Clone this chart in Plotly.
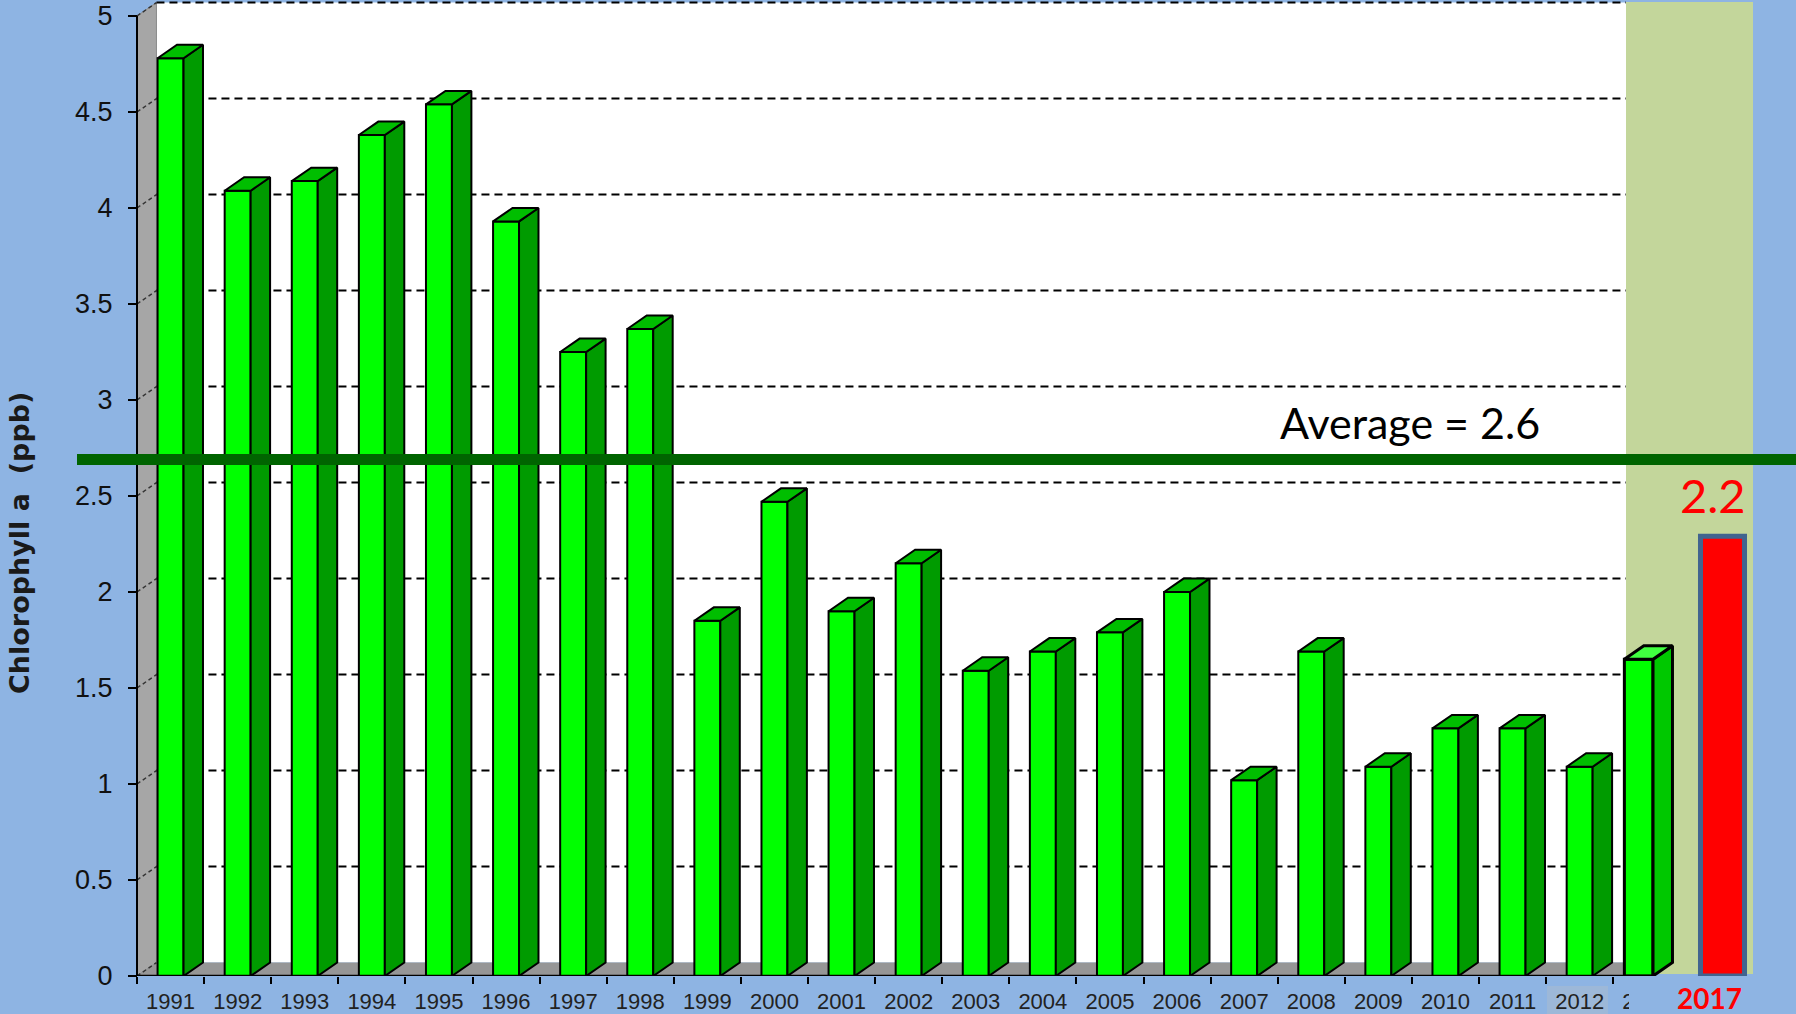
import plotly.graph_objects as go
import numpy as np

# ---------------- data ----------------
years = ["1991", "1992", "1993", "1994", "1995", "1996", "1997", "1998", "1999", "2000",
         "2001", "2002", "2003", "2004", "2005", "2006", "2007", "2008", "2009", "2010",
         "2011", "2012", "2013"]
chl = [4.78, 4.09, 4.14, 4.38, 4.54, 3.93, 3.25, 3.37, 1.85, 2.47,
       1.90, 2.15, 1.59, 1.69, 1.79, 2.00, 1.02, 1.69, 1.09, 1.29,
       1.29, 1.09, 1.65]
year_2017 = "2017"
chl_2017 = 2.29
label_2017 = "2.2"
average_value = 2.69
average_label = "Average = 2.6"
y_tick_vals = [0, 0.5, 1, 1.5, 2, 2.5, 3, 3.5, 4, 4.5, 5]
y_tick_text = ["0", "0.5", "1", "1.5", "2", "2.5", "3", "3.5", "4", "4.5", "5"]
y_title = "Chlorophyll a  (ppb)"

# ---------------- geometry / style ----------------
W, H = 1796, 1014
PX_CAT = 67.1        # pixels per category
PX_UNIT = 192.0      # pixels per ppb
AX_PX = 137.0        # y axis pixel position
Y0_PX = 976.0        # baseline pixel
B_MARGIN = H - Y0_PX


def px_x(px):
    return -0.5 + (px - AX_PX) / PX_CAT


def px_y(py):
    return (Y0_PX - py) / PX_UNIT


x_range = [px_x(0), px_x(W)]
y_range = [0, px_y(0)]

DX, DY = 0.29, 0.07      # 3-D depth offset (data units)
BW = 0.387               # bar front width
n = len(years)
xpos = np.arange(n, dtype=float)
xpos[-1] -= 0.12         # pasted last bar sits slightly left

BLUE = "#8EB4E3"
KHAKI = "#C3D69B"
FRONT = "#00FF00"
SIDE = "#009B00"
TOP = "#00BE00"

fig = go.Figure()

# front faces
fig.add_trace(go.Bar(x=xpos[:-1], y=chl[:-1], width=BW, marker=dict(color=FRONT, line=dict(color="black", width=2)),
                     hoverinfo="skip", showlegend=False))
fig.add_trace(go.Bar(x=xpos[-1:], y=chl[-1:], width=BW + 0.04, marker=dict(color=FRONT, line=dict(color="black", width=3)),
                     hoverinfo="skip", showlegend=False))


def faces(xs, vs, w):
    sx, sy, tx, ty = [], [], [], []
    for x, v in zip(xs, vs):
        r = x + w / 2
        l = x - w / 2
        sx += [r, r, r + DX, r + DX, r, None]
        sy += [0, v, v + DY, DY, 0, None]
        tx += [l, r, r + DX, l + DX, l, None]
        ty += [v, v, v + DY, v + DY, v, None]
    return sx, sy, tx, ty


sx, sy, tx, ty = faces(xpos[:-1], chl[:-1], BW)
fig.add_trace(go.Scatter(x=sx, y=sy, mode="lines", fill="toself", fillcolor=SIDE,
                         line=dict(color="black", width=2), hoverinfo="skip", showlegend=False))
fig.add_trace(go.Scatter(x=tx, y=ty, mode="lines", fill="toself", fillcolor=TOP,
                         line=dict(color="black", width=2), hoverinfo="skip", showlegend=False))
sx, sy, tx, ty = faces(xpos[-1:], chl[-1:], BW + 0.04)
fig.add_trace(go.Scatter(x=sx, y=sy, mode="lines", fill="toself", fillcolor="#00C800",
                         line=dict(color="black", width=3), hoverinfo="skip", showlegend=False))
fig.add_trace(go.Scatter(x=tx, y=ty, mode="lines", fill="toself", fillcolor="#40FF40",
                         line=dict(color="black", width=3), hoverinfo="skip", showlegend=False))

# 2017 bar
x2017 = px_x(1722.5)
fig.add_trace(go.Bar(x=[x2017], y=[chl_2017], width=0.656,
                     marker=dict(color="#FF0000", line=dict(color="#41648F", width=5)),
                     hoverinfo="skip", showlegend=False))

# ---------------- background shapes ----------------
shapes = []
wall_right = px_x(1626)
# white back wall
shapes.append(dict(type="rect", xref="x", yref="y", x0=-0.5 + DX, x1=wall_right, y0=DY, y1=5 + DY,
                   fillcolor="white", line=dict(width=0), layer="below"))
# khaki panel
shapes.append(dict(type="rect", xref="x", yref="y", x0=px_x(1626), x1=px_x(1753), y0=px_y(974), y1=px_y(2),
                   fillcolor=KHAKI, line=dict(width=0), layer="below"))
# left gray wall
shapes.append(dict(type="path", xref="x", yref="y",
                   path=f"M {-0.5},0 L {-0.5},5 L {-0.5 + DX},{5 + DY} L {-0.5 + DX},{DY} Z",
                   fillcolor="#A6A6A6", line=dict(color="#8C8C8C", width=1), layer="below"))
# floor
x_floor_end = xpos[-1] + BW / 2
shapes.append(dict(type="path", xref="x", yref="y",
                   path=f"M {-0.5},0 L {x_floor_end},0 L {x_floor_end + DX},{DY} L {-0.5 + DX},{DY} Z",
                   fillcolor="#969696", line=dict(width=0), layer="below"))
# gridlines
for v in y_tick_vals:
    if v > 0:
        shapes.append(dict(type="line", xref="x", yref="y", x0=-0.5 + DX, x1=wall_right, y0=v + DY, y1=v + DY,
                           line=dict(color="black", width=2, dash="8px,5px"), layer="below"))
    shapes.append(dict(type="line", xref="x", yref="y", x0=-0.5, x1=-0.5 + DX, y0=v, y1=v + DY,
                       line=dict(color="#333333", width=1.5, dash="4px,3px"), layer="below"))
# 2012 label highlight
shapes.append(dict(type="rect", xref="x", yref="paper", x0=px_x(1547), x1=px_x(1608),
                   y0=-(1014 - Y0_PX) / Y0_PX, y1=-(986 - Y0_PX) / Y0_PX,
                   fillcolor="#9DB8D8", line=dict(width=0), layer="below"))

# ---------------- foreground shapes ----------------
# axes lines
shapes.append(dict(type="line", xref="x", yref="y", x0=-0.5, x1=-0.5, y0=0, y1=5,
                   line=dict(color="black", width=2), layer="above"))
shapes.append(dict(type="line", xref="x", yref="y", x0=-0.5, x1=x_floor_end, y0=0, y1=0,
                   line=dict(color="black", width=2.5), layer="above"))
# average line
shapes.append(dict(type="line", xref="x", yref="y", x0=px_x(77), x1=x_range[1], y0=average_value, y1=average_value,
                   line=dict(color="#006400", width=11), layer="above"))
# cover of the 2013 label (pasted image)
shapes.append(dict(type="rect", xref="x", yref="paper", x0=px_x(1629), x1=px_x(1690),
                   y0=-(1014 - Y0_PX) / Y0_PX, y1=-(980 - Y0_PX) / Y0_PX,
                   fillcolor=BLUE, line=dict(width=0), layer="above"))

annotations = [
    dict(x=px_x(1278), y=px_y(422), xref="x", yref="y", text=average_label, showarrow=False,
         xanchor="left", yanchor="middle", font=dict(family="Lato", size=43, color="black")),
    dict(x=px_x(1713), y=px_y(495), xref="x", yref="y", text=label_2017, showarrow=False,
         xanchor="center", yanchor="middle", font=dict(family="Lato", size=47, color="#FF0000")),
    dict(x=px_x(1709), y=-(998 - Y0_PX) / Y0_PX, xref="x", yref="paper", text="<b>" + year_2017 + "</b>",
         showarrow=False, xanchor="center", yanchor="middle",
         font=dict(family="Lato", size=28, color="#FF0000")),
    dict(x=px_x(19), y=px_y(543), xref="x", yref="y", text="<b>" + y_title + "</b>", showarrow=False,
         textangle=-90, xanchor="center", yanchor="middle",
         font=dict(family="DejaVu Sans", size=27, color="#1A1A1A")),
]

fig.update_layout(
    width=W, height=H, autosize=False,
    margin=dict(l=0, r=0, t=0, b=B_MARGIN, pad=0),
    paper_bgcolor=BLUE, plot_bgcolor=BLUE,
    barmode="overlay",
    showlegend=False,
    shapes=shapes,
    annotations=annotations,
    xaxis=dict(range=x_range, showgrid=False, zeroline=False, showline=False,
               tickmode="array", tickvals=list(range(n)), ticktext=years, ticks="",
               tickfont=dict(family="Liberation Sans, Arial", size=22, color="#222222"),
               ticklabelstandoff=10,
               minor=dict(tickmode="array", tickvals=[i - 0.5 for i in range(n)], ticks="outside",
                          ticklen=7, tickwidth=1.5, tickcolor="black")),
    yaxis=dict(range=y_range, anchor="free", position=AX_PX / W, showgrid=False, zeroline=False,
               showline=False, tickmode="array", tickvals=y_tick_vals, ticktext=y_tick_text,
               ticks="outside", ticklen=9, tickwidth=1.5, tickcolor="black",
               tickfont=dict(family="Liberation Sans, Arial", size=27, color="#111111"),
               ticklabelstandoff=10),
)

fig.write_html("out.html", config={"displayModeBar": False},
               post_script="document.body.style.margin='0px';document.body.style.overflow='hidden';")
